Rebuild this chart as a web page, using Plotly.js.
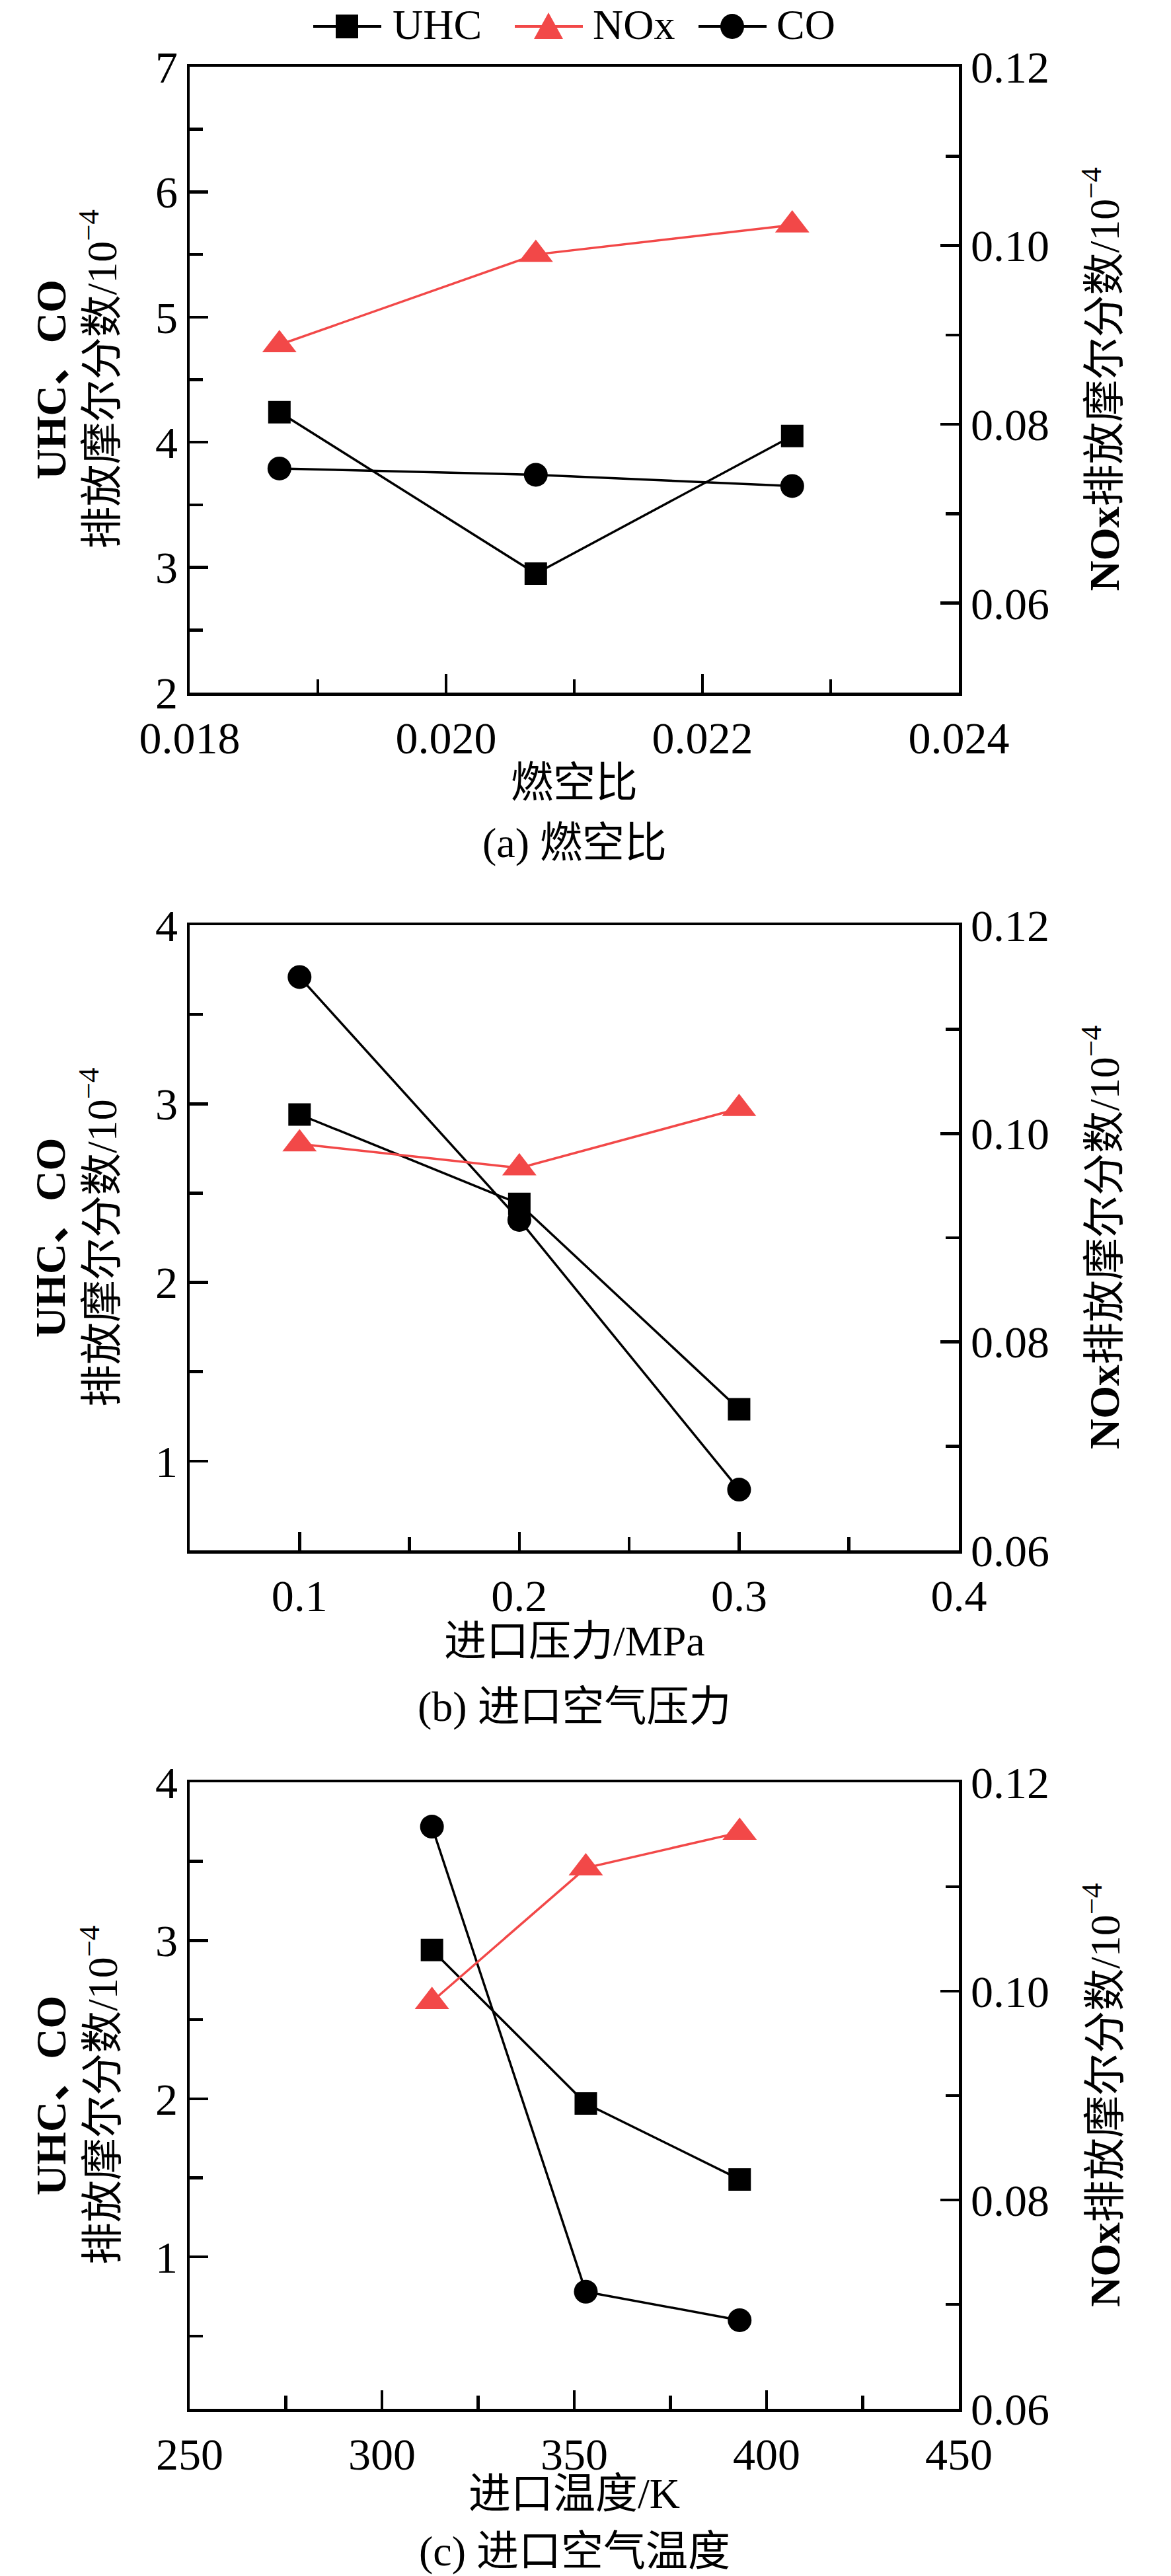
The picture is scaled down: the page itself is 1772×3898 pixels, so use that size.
<!DOCTYPE html>
<html>
<head>
<meta charset="utf-8">
<script src="https://cdn.plot.ly/plotly-3.0.1.min.js"></script>
<style>
  html, body { margin: 0; padding: 0; background: #fff; }
  #chart { width: 1772px; height: 3898px; }
</style>
</head>
<body>
<div id="chart"></div>
<script>
// --- datos ---------------------------------------------------------------
// (a) 燃空比
const xA = [0.0187, 0.0207, 0.0227];
const uhcA = [4.24, 2.95, 4.05];
const coA = [3.79, 3.74, 3.65];
const noxA = [0.0889, 0.0990, 0.1023];

// (b) 进口空气压力
const xB = [0.1, 0.2, 0.3];
const uhcB = [2.94, 2.44, 1.29];
const coB = [3.71, 2.35, 0.84];
const noxB = [0.0990, 0.0967, 0.1024];

// (c) 进口空气温度
const xC = [313, 353, 393];
const uhcC = [2.94, 1.97, 1.49];
const coC = [3.72, 0.78, 0.60];
const noxC = [0.0990, 0.1118, 0.1152];

const xTitles = ['燃空比', '进口压力/MPa', '进口温度/K'];
const captions = ['(a) 燃空比', '(b) 进口空气压力', '(c) 进口空气温度'];
const seriesNames = ['UHC', 'NOx', 'CO'];

// --- estilo ---------------------------------------------------------------
const W = 1772, H = 3898;
const RED = 'rgb(242,72,72)';
const FONT = '"Liberation Serif", "Times New Roman", "Noto Sans CJK SC", serif';
const FS = 64;      // títulos y leyenda
const FS_TICK = 68; // números de los ejes
const LW = 4.5;

const px = (x) => x / W;
const py = (y) => 1 - y / H;

const PLOT_L = 287, PLOT_R = 1451;
const PANELS = [
  { top: 101, bottom: 1048, x: xA, uhc: uhcA, co: coA, nox: noxA,
    xr: [0.018, 0.024], xd: 0.002, xm: 0.001, xf: '.3f',
    yr: [2, 7], yd: 1, ym: 0.5, y2r: [0.05, 0.12], tOff: 136, cOff: 227 },
  { top: 1400, bottom: 2346, x: xB, uhc: uhcB, co: coB, nox: noxB,
    xr: [0.05, 0.4], xd: 0.1, xm: 0.05, xf: '.1f',
    yr: [0.5, 4], yd: 1, ym: 0.5, y2r: [0.06, 0.12], tOff: 137, cOff: 236 },
  { top: 2697, bottom: 3645, x: xC, uhc: uhcC, co: coC, nox: noxC,
    xr: [250, 450], xd: 50, xm: 25, xf: 'd',
    yr: [0.04, 4], yd: 1, ym: 0.5, y2r: [0.06, 0.12], tOff: 128, cOff: 215 },
];

const tickFont = { family: FONT, size: FS_TICK, color: '#000' };

function ejeComun() {
  return {
    showline: true, linewidth: LW, linecolor: '#000',
    ticks: 'inside', ticklen: 28, tickwidth: LW, tickcolor: '#000',
    showgrid: false, zeroline: false, tickfont: tickFont,
  };
}

const traces = [];
const layout = {
  width: W, height: H,
  margin: { l: 0, r: 0, t: 0, b: 0 },
  paper_bgcolor: '#fff', plot_bgcolor: 'rgba(0,0,0,0)',
  showlegend: false,
  font: { family: FONT, size: FS, color: '#000' },
  shapes: [], annotations: [],
};

PANELS.forEach((p, i) => {
  const n = i + 1;
  const xk = n === 1 ? 'x' : 'x' + n;
  const yk = 'y' + (2 * n - 1 === 1 ? '' : 2 * n - 1);
  const y2k = 'y' + 2 * n;
  const dom = [py(p.bottom), py(p.top)];

  layout['xaxis' + (n === 1 ? '' : n)] = Object.assign(ejeComun(), {
    domain: [px(PLOT_L), px(PLOT_R)], anchor: yk, range: p.xr,
    dtick: p.xd, tick0: 0, tickformat: p.xf, mirror: true, ticklabelstandoff: 6,
    minor: { dtick: p.xm, ticks: 'inside', ticklen: 20, tickwidth: LW, tickcolor: '#000', showgrid: false },
  });
  layout['yaxis' + (2 * n - 1 === 1 ? '' : 2 * n - 1)] = Object.assign(ejeComun(), {
    domain: dom, anchor: xk, range: p.yr, dtick: p.yd, tick0: 0,
    minor: { dtick: p.ym, ticks: 'inside', ticklen: 20, tickwidth: LW, tickcolor: '#000', showgrid: false },
  });
  layout['yaxis' + 2 * n] = Object.assign(ejeComun(), {
    domain: dom, anchor: xk, overlaying: yk, side: 'right', range: p.y2r,
    dtick: 0.02, tick0: 0, tickformat: '.2f',
    minor: { dtick: 0.01, ticks: 'inside', ticklen: 20, tickwidth: LW, tickcolor: '#000', showgrid: false },
  });

  traces.push({
    x: p.x, y: p.uhc, xaxis: xk, yaxis: yk, name: seriesNames[0],
    mode: 'lines+markers', line: { color: '#000', width: 3.5 },
    marker: { symbol: 'square', size: 34, color: '#000' },
  });
  traces.push({
    x: p.x, y: p.co, xaxis: xk, yaxis: yk, name: seriesNames[2],
    mode: 'lines+markers', line: { color: '#000', width: 3.5 },
    marker: { symbol: 'circle', size: 36, color: '#000' },
  });
  traces.push({
    x: p.x, y: p.nox, xaxis: xk, yaxis: y2k, name: seriesNames[1],
    mode: 'lines+markers', line: { color: RED, width: 3.5 },
    marker: { symbol: 'triangle-up', size: 45, color: RED },
  });

  // títulos de ejes y leyenda de cada panel
  const cy = (p.top + p.bottom) / 2;
  const cx = (PLOT_L + PLOT_R) / 2;
  layout.annotations.push(
    { xref: 'paper', yref: 'paper', x: px(77), y: py(cy), text: '<b>UHC、CO</b>',
      textangle: -90, showarrow: false, xanchor: 'center', yanchor: 'middle', font: { size: FS } },
    { xref: 'paper', yref: 'paper', x: px(150), y: py(cy), text: '排放摩尔分数/10<sup>−4</sup>',
      textangle: -90, showarrow: false, xanchor: 'center', yanchor: 'middle', font: { size: FS } },
    { xref: 'paper', yref: 'paper', x: px(1667), y: py(cy), text: '<b>NOx</b>排放摩尔分数/10<sup>−4</sup>',
      textangle: -90, showarrow: false, xanchor: 'center', yanchor: 'middle', font: { size: FS } },
    { xref: 'paper', yref: 'paper', x: px(cx), y: py(p.bottom + p.tOff), text: xTitles[i],
      showarrow: false, xanchor: 'center', yanchor: 'middle', font: { size: FS } },
    { xref: 'paper', yref: 'paper', x: px(cx), y: py(p.bottom + p.cOff), text: captions[i],
      showarrow: false, xanchor: 'center', yanchor: 'middle', font: { size: FS } },
  );
});

// --- leyenda superior dibujada a mano (líneas largas + marcadores grandes) ---
const LEG_Y = 40;
const claves = [
  { name: seriesNames[0], x0: 474, color: '#000', sym: 'square', tx: 592 },
  { name: seriesNames[1], x0: 779, color: RED, sym: 'triangle', tx: 895 },
  { name: seriesNames[2], x0: 1057, color: '#000', sym: 'circle', tx: 1173 },
];
claves.forEach((k) => {
  const c = k.x0 + 51;
  layout.shapes.push({ type: 'line', xref: 'paper', yref: 'paper',
    x0: px(k.x0), x1: px(k.x0 + 103), y0: py(LEG_Y), y1: py(LEG_Y),
    line: { color: k.color, width: 4 } });
  if (k.sym === 'square') {
    layout.shapes.push({ type: 'rect', xref: 'paper', yref: 'paper',
      x0: px(c - 17), x1: px(c + 17), y0: py(LEG_Y + 18), y1: py(LEG_Y - 18),
      fillcolor: k.color, line: { width: 0 } });
  } else if (k.sym === 'circle') {
    layout.shapes.push({ type: 'circle', xref: 'paper', yref: 'paper',
      x0: px(c - 18), x1: px(c + 18), y0: py(LEG_Y + 19), y1: py(LEG_Y - 19),
      fillcolor: k.color, line: { width: 0 } });
  } else {
    const path = `M${px(c - 22)},${py(LEG_Y + 19)} L${px(c + 22)},${py(LEG_Y + 19)} L${px(c)},${py(LEG_Y - 21)} Z`;
    layout.shapes.push({ type: 'path', xref: 'paper', yref: 'paper', path,
      fillcolor: k.color, line: { width: 0 } });
  }
  layout.annotations.push({ xref: 'paper', yref: 'paper', x: px(k.tx), y: py(LEG_Y - 3),
    text: k.name, showarrow: false, xanchor: 'left', yanchor: 'middle', font: { size: FS } });
});

Plotly.newPlot('chart', traces, layout, { displayModeBar: false, staticPlot: true });
</script>
</body>
</html>
